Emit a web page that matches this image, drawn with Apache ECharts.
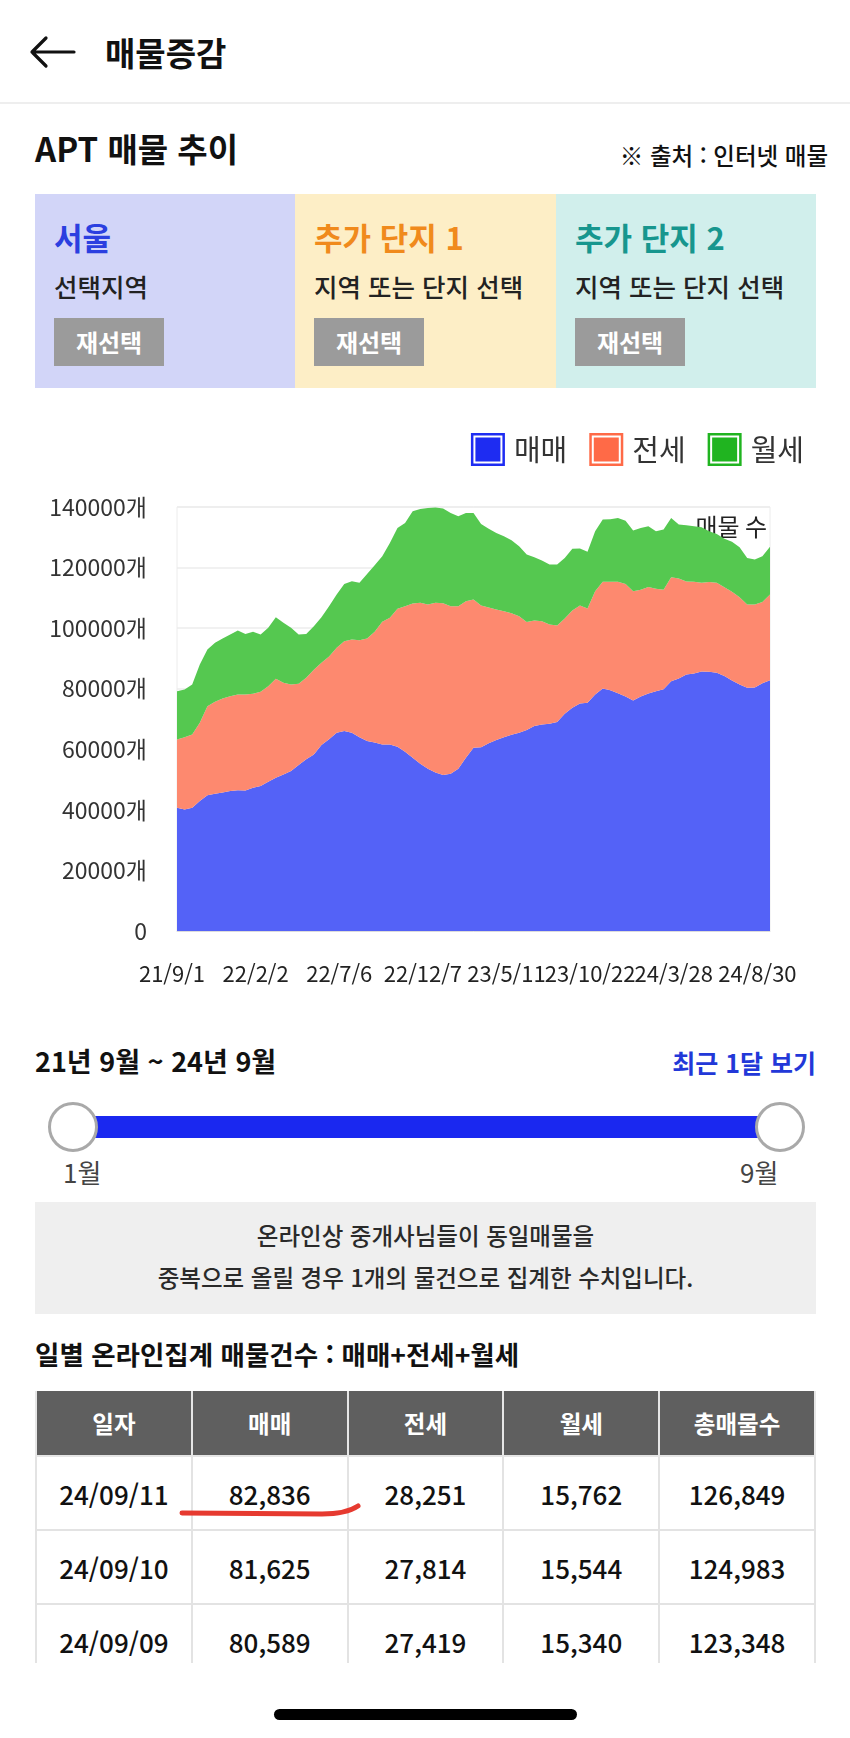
<!DOCTYPE html>
<html lang="ko">
<head>
<meta charset="utf-8">
<script src="https://cdn.jsdelivr.net/npm/echarts@6/dist/echarts.min.js"></script>
<style>
  html, body { margin:0; padding:0; background:#fff; }
  body { width:850px; height:1738px; position:relative; overflow:hidden;
         font-family:"Noto Sans CJK KR","Noto Sans",sans-serif; color:#111; }
  .abs { position:absolute; white-space:nowrap; }
  .box { position:absolute; top:194px; height:194px; width:261px; }
  .box .t { position:absolute; left:19px; top:24px; font-size:31px; font-weight:700; line-height:38px; }
  .box .s { position:absolute; left:19px; top:75px; font-size:25.5px; font-weight:500; line-height:34px; color:#222; }
  .box .b { position:absolute; left:19px; top:124px; width:110px; height:48px; background:#9b9b9b;
            color:#fff; font-size:24px; font-weight:700; line-height:48px; text-align:center; }
  table { border-collapse:collapse; table-layout:fixed; }
  th { background:#5f5f5f; color:#fff; font-size:23.5px; font-weight:700; height:64px; padding:0;
       border:2px solid #e6e6e6; border-top:none; }
  td { font-size:26px; font-weight:500; color:#111; height:72px; padding:0; text-align:center;
       border:2px solid #e3e3e3; }
</style>
</head>
<body>
<!-- header -->
<svg class="abs" style="left:26px;top:34px" width="52" height="36">
  <path d="M6,18 H48 M6,18 L20,4 M6,18 L20,32" stroke="#111" stroke-width="3.2" fill="none" stroke-linecap="round"/>
</svg>
<div class="abs" style="left:105px;top:30px;font-size:33px;font-weight:700;line-height:44px;">매물증감</div>
<div class="abs" style="left:0;top:102px;width:850px;height:2px;background:#eeeeee;"></div>

<div class="abs" style="left:35px;top:126px;font-size:33px;font-weight:700;line-height:44px;">APT 매물 추이</div>
<div class="abs" style="right:22px;top:139px;font-size:23.5px;font-weight:500;line-height:32px;">※ 출처 : 인터넷 매물</div>

<div class="box" style="left:35px;background:#d2d5f8;">
  <div class="t" style="color:#2b3fe0;">서울</div>
  <div class="s">선택지역</div>
  <div class="b">재선택</div>
</div>
<div class="box" style="left:295px;background:#fdeec6;">
  <div class="t" style="color:#f08a1c;">추가 단지 1</div>
  <div class="s">지역 또는 단지 선택</div>
  <div class="b">재선택</div>
</div>
<div class="box" style="left:556px;width:260px;background:#d1efec;">
  <div class="t" style="color:#17968e;">추가 단지 2</div>
  <div class="s">지역 또는 단지 선택</div>
  <div class="b">재선택</div>
</div>

<div id="chart" class="abs" style="left:0;top:380px;width:850px;height:630px;"></div>

<!-- period / slider -->
<div class="abs" style="left:35px;top:1043px;font-size:27px;font-weight:700;line-height:36px;">21년 9월 ~ 24년 9월</div>
<div class="abs" style="right:34px;top:1045px;font-size:25px;font-weight:700;line-height:34px;color:#2238d8;">최근 1달 보기</div>
<div class="abs" style="left:95px;top:1116px;width:668px;height:22px;background:#1a28f0;"></div>
<div class="abs" style="left:48px;top:1102px;width:44px;height:44px;border:3px solid #a9a9a9;border-radius:50%;background:#fff;"></div>
<div class="abs" style="left:755px;top:1102px;width:44px;height:44px;border:3px solid #a9a9a9;border-radius:50%;background:#fff;"></div>
<div class="abs" style="left:63px;top:1155px;font-size:26px;line-height:34px;color:#444;">1월</div>
<div class="abs" style="left:740px;top:1155px;font-size:26px;line-height:34px;color:#444;">9월</div>

<div class="abs" style="left:35px;top:1202px;width:781px;height:112px;background:#efefef;"></div>
<div class="abs" style="left:35px;top:1218px;width:781px;text-align:center;font-size:23.5px;font-weight:500;line-height:34px;color:#2a2a2a;">온라인상 중개사님들이 동일매물을</div>
<div class="abs" style="left:35px;top:1260px;width:781px;text-align:center;font-size:23.5px;font-weight:500;line-height:34px;color:#2a2a2a;">중복으로 올릴 경우 1개의 물건으로 집계한 수치입니다.</div>

<div class="abs" style="left:35px;top:1336px;font-size:26.5px;font-weight:700;line-height:36px;">일별 온라인집계 매물건수 : 매매+전세+월세</div>

<div class="abs" style="left:35px;top:1391px;width:781px;height:272px;overflow:hidden;">
  <table id="tbl" style="width:781px;"></table>
</div>
<svg class="abs" style="left:0;top:1490px" width="400" height="40">
  <path d="M182,23 L322,24 Q346,24 358,16" stroke="#e63a30" stroke-width="5" fill="none" stroke-linecap="round"/>
</svg>

<div class="abs" style="left:274px;top:1709px;width:303px;height:11px;border-radius:6px;background:#000;"></div>

<script>
// ---------- chart data ----------
const dates = [
 '21/9/1','21/9/15','21/9/29','21/10/13','21/10/27','21/11/10','21/11/24','21/12/8','21/12/22','22/1/5','22/1/19',
 '22/2/2','22/2/16','22/3/2','22/3/16','22/3/30','22/4/13','22/4/27','22/5/11','22/5/25','22/6/8','22/6/22',
 '22/7/6','22/7/20','22/8/3','22/8/17','22/8/31','22/9/14','22/9/28','22/10/12','22/10/26','22/11/9','22/11/23',
 '22/12/7','22/12/21','23/1/4','23/1/18','23/2/1','23/2/15','23/3/1','23/3/15','23/3/29','23/4/12','23/4/26',
 '23/5/11','23/5/26','23/6/10','23/6/25','23/7/10','23/7/25','23/8/9','23/8/24','23/9/8','23/9/22','23/10/7',
 '23/10/22','23/11/5','23/11/19','23/12/3','23/12/17','23/12/31','24/1/14','24/1/28','24/2/11','24/2/25','24/3/13',
 '24/3/28','24/4/11','24/4/25','24/5/9','24/5/23','24/6/6','24/6/20','24/7/4','24/7/18','24/8/1','24/8/15',
 '24/8/30','24/9/11'
];
const xTickLabels = ['21/9/1','22/2/2','22/7/6','22/12/7','23/5/11','23/10/22','24/3/28','24/8/30'];

const sale = [40700,40150,40700,42900,44800,45300,45700,46200,46500,46400,47300,47900,49300,50600,51700,52800,54800,56700,58300,61400,63300,65500,66000,65500,64000,62700,62200,61600,61600,60800,59200,57200,55200,53600,52300,51500,51900,53600,57200,60500,60700,62000,63100,64000,64800,65500,66400,67700,68200,68400,69000,71700,73700,75100,75400,78100,80100,79500,78500,77400,76100,77400,78400,79200,79800,82500,83400,84700,85000,85700,85600,85300,84200,82700,81400,80300,80400,81800,82836];
const jeonse = [22550,23850,24200,25850,29450,30400,31100,31350,31600,31700,31000,31100,31550,32700,30250,28600,26800,26900,27950,27150,27350,28000,29700,30750,32000,33900,36600,40500,41800,45600,48050,50900,53150,54200,56050,56750,55350,53650,51700,48950,46750,44800,43050,41600,40150,38450,35600,34800,34100,32800,31900,31500,32100,32350,31100,34100,35200,35800,36800,37200,36100,35300,35200,33800,32900,34300,33000,30700,30300,29300,29600,29650,29300,29300,28800,27500,27400,26800,28251];
const monthly = [15950,15750,16500,19250,18700,19450,19800,20350,21100,20000,20500,18900,19250,20300,19800,18700,16300,14500,14400,15050,16600,17600,18850,19250,18950,21300,22000,21650,24750,26700,27500,30500,31000,31900,31450,31250,30800,29700,29150,28600,26950,26000,25300,24750,24050,23050,22300,20900,20000,19800,20100,20000,20400,18850,18700,19800,20550,20650,21100,20900,20000,20400,20050,19000,19850,19600,17800,18600,18350,18300,16800,16150,16000,16500,16500,15400,14850,15150,15762];

const seriesNames = ['매매','전세','월세'];

// ---------- table data ----------
const tableHeaders = ['일자','매매','전세','월세','총매물수'];
const tableDates = ['24/09/11','24/09/10','24/09/09'];
const tableSale = [82836, 81625, 80589];
const tableJeonse = [28251, 27814, 27419];
const tableMonthly = [15762, 15544, 15340];
const tableTotal = [126849, 124983, 123348];

// build table
(function(){
  const fmt = n => n.toLocaleString('en-US');
  let h = '<tr>' + tableHeaders.map(t => '<th>' + t + '</th>').join('') + '</tr>';
  tableDates.forEach((d, i) => {
    h += '<tr><td>' + d + '</td><td>' + fmt(tableSale[i]) + '</td><td>' + fmt(tableJeonse[i]) +
         '</td><td>' + fmt(tableMonthly[i]) + '</td><td>' + fmt(tableTotal[i]) + '</td></tr>';
  });
  document.getElementById('tbl').innerHTML = h;
})();

// ---------- chart ----------
const chart = echarts.init(document.getElementById('chart'), null, {renderer:'canvas'});
const icon = 'path://M0,0 H34 V33 H0 Z M2.5,2.5 V30.5 H31.5 V2.5 Z M4.5,4.5 H29.5 V28.5 H4.5 Z';
const lineCol = ['#1e2cf2','#ff6a47','#20b420'];
const areaCol = ['#5462f7','#fd896f','#55c850'];
const vals = [sale, jeonse, monthly];

chart.setOption({
  animation:false,
  textStyle:{ fontFamily:'"Noto Sans CJK KR","Noto Sans",sans-serif' },
  legend:{
    right:41, top:48, itemWidth:34, itemHeight:33, itemGap:22, icon:icon,
    textStyle:{ fontSize:29, color:'#333', padding:[0,0,0,4] },
    data:seriesNames
  },
  grid:{ left:177, right:80, top:127, bottom:79, show:true, borderColor:'#ececec', borderWidth:1 },
  graphic:[{ type:'text', right:83, top:135, style:{ text:'매물 수', fontSize:24, fill:'#222',
             fontFamily:'"Noto Sans CJK KR",sans-serif' } }],
  xAxis:{
    type:'category', data:dates, boundaryGap:false,
    axisLine:{ lineStyle:{ color:'#dcdcdc' } },
    axisTick:{ show:false },
    axisLabel:{ fontSize:22, color:'#222', margin:32, padding:[0,10,0,0],
      interval:(idx, val) => xTickLabels.includes(val) },
    splitLine:{ show:false }
  },
  yAxis:{
    type:'value', min:0, max:140000, interval:20000,
    axisLine:{ show:false }, axisTick:{ show:false },
    axisLabel:{ fontSize:23, color:'#333', margin:30, formatter:v => v === 0 ? '0' : v + '개' },
    splitLine:{ lineStyle:{ color:'#ececec', width:1.5 } }
  },
  series: seriesNames.map((n, k) => ({
    name:n, type:'line', stack:'total', data:vals[k], symbol:'none',
    itemStyle:{ color:lineCol[k] },
    lineStyle:{ width:0 },
    areaStyle:{ color:areaCol[k], opacity:1 }
  }))
});
</script>
</body>
</html>
